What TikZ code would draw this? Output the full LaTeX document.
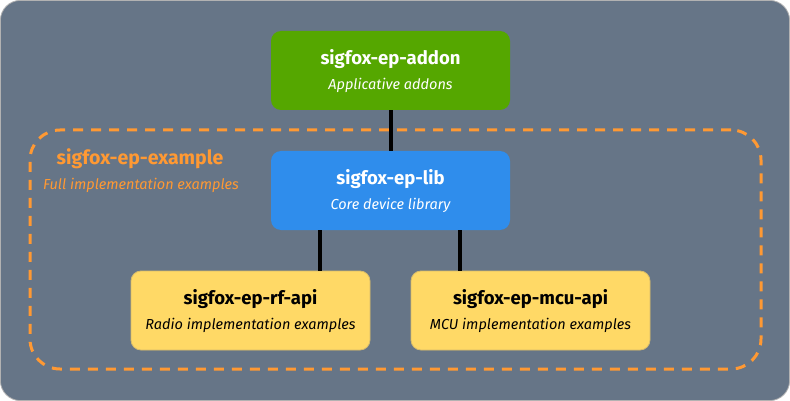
\documentclass[tikz,border=0pt]{standalone}
\usepackage{fontspec}
\setmainfont{Fira Sans}
\definecolor{bgc}{HTML}{667587}
\definecolor{greenc}{HTML}{55A700}
\definecolor{bluec}{HTML}{2F8DEC}
\definecolor{yellowc}{HTML}{FFD966}
\definecolor{yellowb}{HTML}{D8BC6A}
\definecolor{orangec}{HTML}{FF9933}
\begin{document}
\begin{tikzpicture}[x=1pt,y=-1pt,
  box/.style={rectangle, rounded corners=10pt, minimum width=239pt, minimum height=79pt, align=center, inner sep=0pt},
  title/.style={font=\fontsize{18.5}{20}\selectfont\bfseries},
  sub/.style={font=\fontsize{14.5}{16}\selectfont\itshape},
  link/.style={line width=4pt, black}]
\useasboundingbox (0,0) rectangle (790,401);
\fill[white] (0,0) rectangle (790,401);
\fill[bgc, draw=gray!60, line width=0.8pt, rounded corners=20pt] (0.4,0.4) rectangle (789.6,400.6);
% container
\node[draw=orangec, dashed, dash pattern=on 10pt off 8pt, line width=3pt, rounded corners=30pt,
      minimum width=731pt, minimum height=239pt] (example) at (395.5,249.5) {};
\node[text=orangec, font=\fontsize{19.5}{21}\selectfont\bfseries, anchor=center] (extitle) at (140,159) {sigfox-ep-example};
\node[text=orangec, sub, anchor=center] (exsub) at (141,185) {Full implementation examples};
% boxes
\node[box, fill=greenc, text=white] (addon) at (390.5,70.5) {};
\node[title, text=white] (addont) at (390.5,59) {sigfox-ep-addon};
\node[sub, text=white] (addons) at (390.5,85) {Applicative addons};
\node[box, fill=bluec, text=white] (lib) at (390.5,190.5) {};
\node[title, text=white] (libt) at (390.5,179) {sigfox-ep-lib};
\node[sub, text=white] (libs) at (390.5,205) {Core device library};
\node[box, fill=yellowc, draw=yellowb, line width=0.8pt] (rf) at (250.5,310.5) {};
\node[title] (rft) at (250.5,299) {sigfox-ep-rf-api};
\node[sub] (rfs) at (250.5,325) {Radio implementation examples};
\node[box, fill=yellowc, draw=yellowb, line width=0.8pt] (mcu) at (530.5,310.5) {};
\node[title] (mcut) at (530.5,299) {sigfox-ep-mcu-api};
\node[sub] (mcus) at (530.5,325) {MCU implementation examples};
% links
\draw[link] (addon.south) -- (lib.north);
\draw[link] ([xshift=-70.5pt]lib.south) -- ([xshift=-70.5pt]lib.south |- rf.north);
\draw[link] ([xshift=69.5pt]lib.south) -- ([xshift=69.5pt]lib.south |- mcu.north);
\end{tikzpicture}
\end{document}
